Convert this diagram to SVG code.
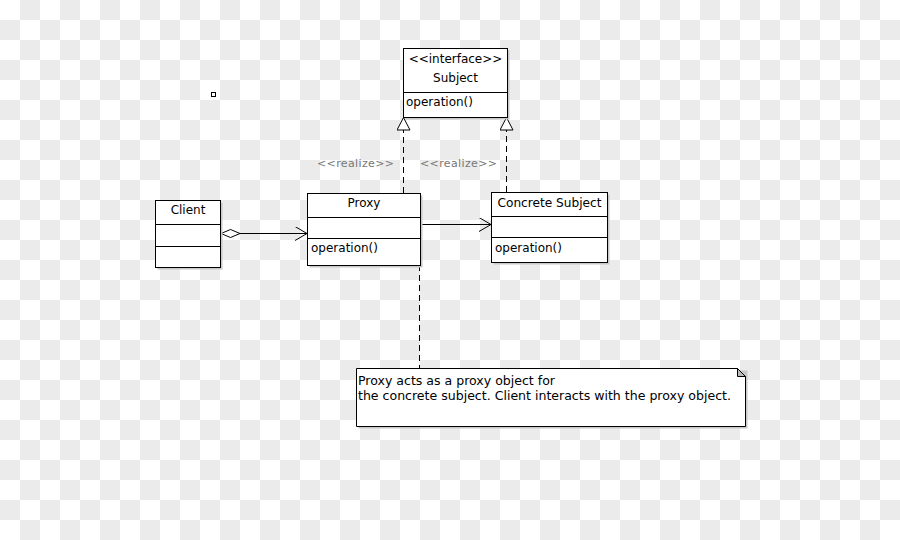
<svg xmlns="http://www.w3.org/2000/svg" width="900" height="540" viewBox="0 0 900 540">
  <defs>
    <pattern id="checker" width="40" height="40" patternUnits="userSpaceOnUse">
      <rect width="40" height="40" fill="#ffffff"/>
      <rect x="20" y="0" width="20" height="20" fill="#ebebeb"/>
      <rect x="0" y="20" width="20" height="20" fill="#ebebeb"/>
    </pattern>
    <marker id="open" markerWidth="14" markerHeight="16" refX="12" refY="7" orient="auto" markerUnits="userSpaceOnUse">
      <path d="M0,0 L12,7 L0,14" fill="none" stroke="#000" stroke-width="1"/>
    </marker>
    <marker id="tri" markerWidth="16" markerHeight="16" refX="13" refY="7" orient="auto" markerUnits="userSpaceOnUse">
      <path d="M0.5,0.5 L13,7 L0.5,13.5 Z" fill="#fff" stroke="#000" stroke-width="1"/>
    </marker>
    <marker id="diamond" markerWidth="22" markerHeight="10" refX="0.5" refY="4.5" orient="auto" markerUnits="userSpaceOnUse">
      <path d="M0.5,4.5 L10,0.5 L19.5,4.5 L10,8.5 Z" fill="#fff" stroke="#000" stroke-width="1"/>
    </marker>
  </defs>
  <style>
    .box { fill: #fff; stroke: #000; stroke-width: 1; }
    .shadow { fill: #c8c8c8; }
    .div { stroke: #000; stroke-width: 1; }
    .t { font-family: "DejaVu Sans", sans-serif; font-size: 12px; fill: #000; }
    .c { text-anchor: middle; }
    .lbl { font-family: "DejaVu Sans", sans-serif; font-size: 11px; fill: #777; }
    .line { stroke: #000; stroke-width: 1; fill: none; }
    .dash { stroke: #000; stroke-width: 1; fill: none; stroke-dasharray: 6,4; }
  </style>
  <rect width="900" height="540" fill="url(#checker)"/>

  <rect x="211.5" y="92.5" width="4" height="4" fill="#fff" stroke="#000" stroke-width="1"/>

  <g id="connectors">
    <line class="line" x1="221" y1="233.5" x2="307" y2="233.5" marker-start="url(#diamond)" marker-end="url(#open)"/>
    <line class="line" x1="420.5" y1="224.5" x2="491" y2="224.5" marker-end="url(#open)"/>
    <line class="dash" x1="403.5" y1="193" x2="403.5" y2="117.5" marker-end="url(#tri)"/>
    <line class="dash" x1="506.5" y1="192" x2="506.5" y2="117.5" marker-end="url(#tri)"/>
    <line class="dash" x1="419.5" y1="265" x2="419.5" y2="368"/>
    <text class="lbl" x="317" y="167" textLength="77" lengthAdjust="spacing">&lt;&lt;realize&gt;&gt;</text>
    <text class="lbl" x="420" y="167" textLength="77" lengthAdjust="spacing">&lt;&lt;realize&gt;&gt;</text>
  </g>

  <g id="subject">
    <rect class="shadow" x="405.5" y="50.5" width="104" height="69"/>
    <rect class="box" x="403.5" y="48.5" width="104" height="69"/>
    <line class="div" x1="403.5" y1="92.5" x2="507.5" y2="92.5"/>
    <text class="t c" x="455.5" y="62.5">&lt;&lt;interface&gt;&gt;</text>
    <text class="t c" x="455.5" y="81.5">Subject</text>
    <text class="t" x="406" y="106">operation()</text>
  </g>

  <g id="client">
    <rect class="shadow" x="157.5" y="202.5" width="65" height="67"/>
    <rect class="box" x="155.5" y="200.5" width="65" height="67"/>
    <line class="div" x1="155.5" y1="224.5" x2="220.5" y2="224.5"/>
    <line class="div" x1="155.5" y1="246.5" x2="220.5" y2="246.5"/>
    <text class="t c" x="188" y="214">Client</text>
  </g>

  <g id="proxy">
    <rect class="shadow" x="309.5" y="195.5" width="113" height="72"/>
    <rect class="box" x="307.5" y="193.5" width="113" height="72"/>
    <line class="div" x1="307.5" y1="217.5" x2="420.5" y2="217.5"/>
    <line class="div" x1="307.5" y1="238.5" x2="420.5" y2="238.5"/>
    <text class="t c" x="364" y="207">Proxy</text>
    <text class="t" x="311" y="252">operation()</text>
  </g>

  <g id="concrete">
    <rect class="shadow" x="493.5" y="194.5" width="116" height="70"/>
    <rect class="box" x="491.5" y="192.5" width="116" height="70"/>
    <line class="div" x1="491.5" y1="216.5" x2="607.5" y2="216.5"/>
    <line class="div" x1="491.5" y1="237.5" x2="607.5" y2="237.5"/>
    <text class="t c" x="549.5" y="206.5" textLength="104" lengthAdjust="spacingAndGlyphs">Concrete Subject</text>
    <text class="t" x="495" y="251.5">operation()</text>
  </g>

  <g id="note">
    <path d="M358.5,370.5 L747.5,370.5 L747.5,428.5 L358.5,428.5 Z" fill="#c8c8c8"/>
    <path d="M356.5,368.5 L737.5,368.5 L745.5,376.5 L745.5,426.5 L356.5,426.5 Z" fill="#fff" stroke="#000" stroke-width="1"/>
    <path d="M737.5,368.5 L737.5,376.5 L745.5,376.5 Z" fill="#bbb" stroke="#000" stroke-width="1"/>
    <text class="t" x="358" y="385" textLength="197" lengthAdjust="spacingAndGlyphs">Proxy acts as a proxy object for</text>
    <text class="t" x="358" y="400" textLength="373" lengthAdjust="spacingAndGlyphs">the concrete subject. Client interacts with the proxy object.</text>
  </g>
</svg>
